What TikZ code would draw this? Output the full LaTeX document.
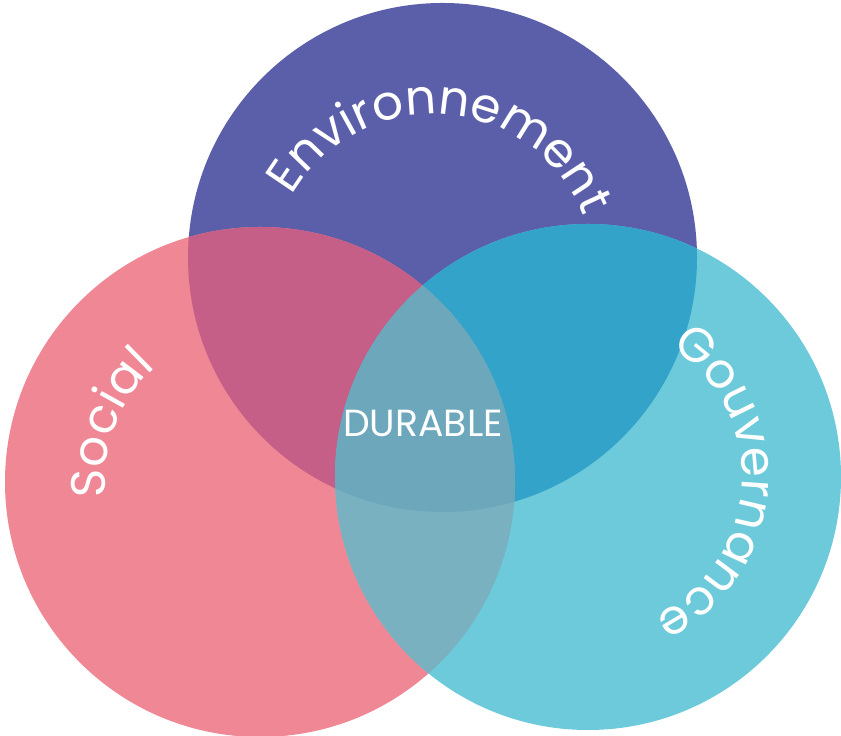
\documentclass[tikz,border=0pt]{standalone}
\usepackage{fontspec}
\setmainfont{Poppins}
\usetikzlibrary{decorations.text}

\definecolor{envblue}{HTML}{5B5FAA}
\definecolor{socpink}{HTML}{F08795}
\definecolor{govcyan}{HTML}{6CCADB}
\definecolor{envsoc}{HTML}{C65F87}
\definecolor{envgov}{HTML}{33A3C9}
\definecolor{socgov}{HTML}{7AB1C0}
\definecolor{durablecol}{HTML}{6DA7BC}

\newcommand{\labelfont}{\fontsize{27.5}{32}\selectfont}

\begin{document}
\begin{tikzpicture}
    [%%%%%%%%%%%%%%%%%%%%%%%%%%%%%%
        x=0.02cm, y=0.02cm,
        curvedlabel/.style={decorate, decoration={text along path, text align=center, text={|\color{white}\labelfont|#1}}},
        centerlabel/.style={text=white, font=\fontsize{21.5}{24}\selectfont},
    ]%%%%%%%%%%%%%%%%%%%%%%%%%%%%%%
    \useasboundingbox[fill=white] (0,0) rectangle (841,736);

    \coordinate (env) at (442.5,478.5);
    \coordinate (soc) at (260,254);
    \coordinate (gov) at (588,259);

    % the three circles
    \fill[envblue] (env) circle (254.5);
    \fill[socpink] (soc) circle (255);
    \fill[govcyan] (gov) circle (253);

    % overlaps
    \begin{scope}
        \clip (env) circle (254.5);
        \fill[envsoc] (soc) circle (255);
        \fill[envgov] (gov) circle (253);
    \end{scope}
    \begin{scope}
        \clip (soc) circle (255);
        \fill[socgov] (gov) circle (253);
        \clip (gov) circle (253);
        \fill[durablecol] (env) circle (254.5);
    \end{scope}

    % labels
    \coordinate (envtxt) at (433,460);
    \path[curvedlabel=Environnement] ([shift={(170:162)}]envtxt) arc[start angle=170, end angle=2, radius=162];
    \path[curvedlabel=Social] ([shift={(200:155)}]soc) arc[start angle=200, end angle=118, radius=155];
    \path[curvedlabel=Gouvernance] ([shift={(70:154)}]gov) arc[start angle=70, end angle=-77, radius=154];

    \node[centerlabel] (durable) at (423,313) {DURABLE};
\end{tikzpicture}
\end{document}
